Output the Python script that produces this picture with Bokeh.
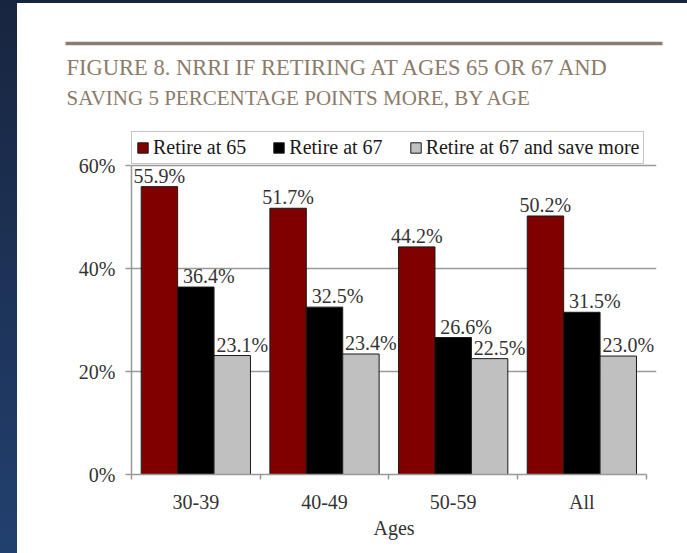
from bokeh.plotting import figure
from bokeh.models import (Range1d, FixedTicker, PrintfTickFormatter, Legend, LegendItem,
                          ColumnDataSource, Div)
from bokeh.transform import dodge
from bokeh.layouts import row, column
from bokeh.embed import file_html
from bokeh.resources import INLINE
from bokeh.core.properties import value

# ---- data ----
ages = ["30-39", "40-49", "50-59", "All"]
retire_65 = [55.9, 51.7, 44.2, 50.2]
retire_67 = [36.4, 32.5, 26.6, 31.5]
retire_67_save = [23.1, 23.4, 22.5, 23.0]
series_names = ["Retire at 65", "Retire at 67", "Retire at 67 and save more"]
y_ticks = [0, 20, 40, 60]
title_lines = ["FIGURE 8. NRRI IF RETIRING AT AGES 65 OR 67 AND",
               "SAVING 5 PERCENTAGE POINTS MORE, BY AGE"]
x_axis_label = "Ages"

FONT = "Liberation Serif"
TXT = "#333333"
GRID = "#999999"
TITLE_COLOR = "#8b7b6b"


def no_frame_align(fig):
    try:
        fig.frame_align = False
    except Exception:
        pass


# ---------------- header: rule + two-line title ----------------
HW, HH = 670, 122
hdr = figure(width=HW, height=HH, x_range=Range1d(0, HW), y_range=Range1d(HH, 0),
             output_backend="svg", toolbar_location=None, x_axis_type=None, y_axis_type=None,
             min_border=0, title_location=None)
no_frame_align(hdr)
hdr.outline_line_color = None
hdr.background_fill_color = "white"
hdr.border_fill_color = "white"
hdr.grid.visible = False
hdr.segment(x0=[48], y0=[40], x1=[645], y1=[40], line_color="#8b7e70", line_width=3.5)
hdr.text(x=[49, 49], y=[64, 94], text=title_lines, text_font=value(FONT),
         text_font_size=["22.5px", "21px"], text_color=TITLE_COLOR, text_align="left",
         text_baseline="middle")

# ---------------- main chart ----------------
n = len(ages)
centers = [i + 0.5 for i in range(n)]
bounds = list(range(n + 1))

src = ColumnDataSource(dict(
    xc=centers,
    r65=retire_65, r67=retire_67, r67s=retire_67_save,
    l65=[f"{v:.1f}%" for v in retire_65],
    l67=[f"{v:.1f}%" for v in retire_67],
    l67s=[f"{v:.1f}%" for v in retire_67_save],
))

# frame extends a little above 60% (room for the legend) and right of the last group
p = figure(x_range=Range1d(0, 4.08), y_range=Range1d(0, 66.8),
           width=670, height=428, output_backend="svg", toolbar_location=None,
           title_location=None,
           min_border_left=114, min_border_right=31, min_border_top=5, min_border_bottom=79)
no_frame_align(p)
p.outline_line_color = None
p.background_fill_color = "white"
p.border_fill_color = "white"
p.xgrid.visible = False

yax = p.yaxis[0]
yax.ticker = FixedTicker(ticks=y_ticks)
yax.bounds = (y_ticks[0], y_ticks[-1])
yax.formatter = PrintfTickFormatter(format="%d%%")
yax.axis_line_color = GRID
yax.axis_line_width = 1.5
yax.major_tick_line_color = GRID
yax.major_tick_line_width = 1.5
yax.major_tick_in = 0
yax.major_tick_out = 6
yax.minor_tick_line_color = None
yax.major_label_text_font = FONT
yax.major_label_text_font_size = "20px"
yax.major_label_text_color = TXT
yax.major_label_standoff = 10
p.ygrid.grid_line_color = GRID
p.ygrid.grid_line_width = 1.5

xax = p.xaxis[0]
xax.ticker = FixedTicker(ticks=centers, minor_ticks=bounds)
xax.bounds = (0, n)
xax.major_label_overrides = {c: a for c, a in zip(centers, ages)}
xax.axis_line_color = GRID
xax.axis_line_width = 1.5
xax.major_tick_line_color = None
xax.minor_tick_line_color = GRID
xax.minor_tick_line_width = 1.5
xax.minor_tick_in = 0
xax.minor_tick_out = 5
xax.major_label_standoff = 10
xax.major_label_text_font = FONT
xax.major_label_text_font_size = "20px"
xax.major_label_text_color = TXT
xax.axis_label = x_axis_label
xax.axis_label_text_font = FONT
xax.axis_label_text_font_size = "20px"
xax.axis_label_text_font_style = "normal"
xax.axis_label_text_color = TXT
xax.axis_label_standoff = 1

W = 0.283
specs = [("r65", "l65", -W, "#800000", 0),
         ("r67", "l67", 0.0, "#000000", 13),
         ("r67s", "l67s", W, "#c0c0c0", 10)]
rends = []
for key, lab, off, color, xo in specs:
    r = p.vbar(x=dodge("xc", off), top=key, width=W, source=src,
               fill_color=color, line_color="#1a1a1a", line_width=1)
    rends.append(r)
    p.text(x=dodge("xc", off), y=key, text=lab, source=src,
           text_font=value(FONT), text_font_size="20px", text_color=TXT,
           text_align="center", text_baseline="alphabetic", x_offset=xo, y_offset=-11)

legend = Legend(items=[LegendItem(label=nm, renderers=[r]) for nm, r in zip(series_names, rends)],
                orientation="horizontal", location=(0, 310),
                label_text_font=FONT, label_text_font_size="20px", label_text_color="#1a1a1a",
                glyph_width=13, glyph_height=13, label_standoff=4, spacing=26,
                padding=4, margin=0, border_line_color="#8c8c8c", border_line_width=1.5,
                background_fill_color="white", background_fill_alpha=1.0)
p.add_layout(legend)

# ---------------- page frame ----------------
left_strip = Div(width=17, height=553, margin=0,
                 styles={"background": "linear-gradient(to bottom, #18253f, #22406f)"})
top_strip = Div(width=670, height=3, margin=0, styles={"background-color": "#17243f"})

layout = row(left_strip, column(top_strip, hdr, p, spacing=0), spacing=0)

open("out.html", "w").write(file_html(layout, INLINE))
